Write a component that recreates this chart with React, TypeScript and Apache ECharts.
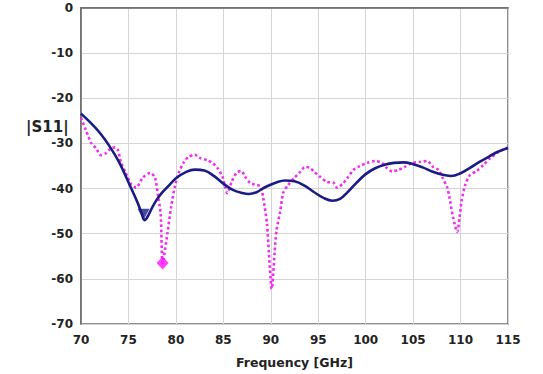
import React, { useEffect, useRef } from "react";
import * as echarts from "echarts";

// Simulated |S11| (dB) versus frequency (GHz)
const simFreq = [
  70, 71, 72, 73, 74, 75, 76, 76.4, 76.7, 77, 77.5, 78, 78.5, 79, 79.5, 80, 81,
  82, 83, 84, 85, 86, 87, 87.7, 88.5, 89.5, 90.5, 91.5, 92.5, 93.5, 94.5, 95.5,
  96.5, 97.3, 98, 99, 100, 101, 102, 103, 104, 105, 106, 107, 108, 109, 110,
  111, 112, 113, 114, 115,
];
const simS11 = [
  -23.4, -25.4, -27.7, -30.6, -34.1, -38.6, -43.3, -45.6, -47, -46.3, -44.2,
  -42.4, -41, -39.9, -38.8, -37.7, -36.4, -35.8, -36, -37.2, -38.9, -40.3, -41,
  -41.2, -40.8, -39.6, -38.7, -38.2, -38.4, -39.3, -40.7, -42, -42.7, -42.3,
  -41, -38.8, -36.8, -35.5, -34.7, -34.3, -34.2, -34.6, -35.3, -36.2, -36.9,
  -37.2, -36.6, -35.4, -34.1, -32.9, -31.8, -31,
];

// Measured |S11| (dB) versus frequency (GHz)
const measFreq = [
  70, 70.5, 71.1, 71.6, 72.1, 72.6, 73.2, 73.6, 73.9, 74.2, 74.7, 75.3, 75.8,
  76.5, 77.3, 77.8, 78.1, 78.4, 78.6, 79.1, 79.5, 79.9, 80.3, 80.8, 81.3, 82,
  82.5, 83.3, 83.9, 84.4, 84.9, 85.2, 85.4, 85.9, 86.4, 86.9, 87.3, 87.8, 88.3,
  88.9, 89.2, 89.6, 89.8, 90.1, 90.4, 90.6, 91, 91.3, 91.8, 92.5, 93.1, 93.6,
  94.1, 94.6, 95.2, 95.9, 96.6, 97, 97.6, 98.1, 98.7, 99.4, 100.2, 101, 101.7,
  102.2, 102.8, 103.4, 104.1, 104.9, 105.7, 106.5, 107.1, 107.7, 108.1, 108.6,
  108.9, 109.2, 109.65, 109.9, 110.1, 110.5, 111, 111.7, 112.4, 113.1, 113.9,
  114.7, 115,
];
const measS11 = [
  -24.3, -27, -30, -31.1, -32.6, -32.2, -31, -30.9, -31.5, -34.1, -36.5, -39.1,
  -39.8, -37.6, -36.5, -37.6, -41.3, -45.7, -56.5, -50, -44, -39.5, -36.5,
  -34.3, -33, -32.5, -33.2, -33.7, -34.4, -35.5, -37.3, -39.8, -41, -38.4,
  -36.5, -36.1, -37.4, -38.7, -39.1, -39.5, -42, -47.8, -54.3, -62.2, -54.3,
  -49.3, -45, -41, -39.3, -37.6, -36.3, -35.2, -35.4, -36.3, -37.4, -38.5,
  -38.7, -39.8, -38.9, -37.6, -35.9, -35, -34.3, -33.9, -34.3, -35.4, -36.2,
  -35.9, -35.2, -34.3, -34.1, -33.9, -35.2, -35.9, -37.6, -39.8, -42.8, -46.3,
  -49.6, -46.3, -42.8, -39.1, -37, -36.1, -34.8, -33.3, -32, -31.1, -30.9,
];

const freqTicks = [70, 75, 80, 85, 90, 95, 100, 105, 110, 115];
const s11Ticks = [0, -10, -20, -30, -40, -50, -60, -70];

const pairs = (xs: number[], ys: number[]) => xs.map((x, i) => [x, ys[i]]);

// Point of the deepest resonance in a trace
const minPoint = (xs: number[], ys: number[]) => {
  let k = 0;
  ys.forEach((v, i) => {
    if (v < ys[k]) k = i;
  });
  return [xs[k], ys[k]];
};

const FONT = "'DejaVu Sans', Verdana, sans-serif";
const NAVY = "#1b1b86";
const MAGENTA = "#f02cf0";

export default function App() {
  const ref = useRef<HTMLDivElement>(null);

  useEffect(() => {
    if (!ref.current) return;
    const chart = echarts.init(ref.current, null, { renderer: "svg" });
    const simMin = minPoint(simFreq, simS11);
    const measFirstDip = minPoint(measFreq.slice(0, 25), measS11.slice(0, 25));

    chart.setOption({
      animation: false,
      backgroundColor: "#ffffff",
      grid: {
        left: 81,
        right: 35,
        top: 8,
        bottom: 42,
        show: true,
        borderColor: "#6a6a6a",
        borderWidth: 1.5,
        backgroundColor: "transparent",
      },
      xAxis: {
        type: "value",
        min: 70,
        max: 115,
        interval: 5,
        name: "Frequency [GHz]",
        nameLocation: "middle",
        nameGap: 32,
        nameTextStyle: { fontFamily: FONT, fontWeight: "bold", fontSize: 12.5, color: "#222" },
        axisLine: { show: true, lineStyle: { color: "#6a6a6a", width: 1.5 } },
        axisTick: { show: false },
        axisLabel: {
          fontFamily: FONT,
          fontWeight: "bold",
          fontSize: 12,
          color: "#222",
          margin: 10,
          formatter: (v: number) => (freqTicks.includes(v) ? String(v) : ""),
        },
        splitLine: { show: true, lineStyle: { color: "#d4d4d4", width: 1 } },
      },
      yAxis: {
        type: "value",
        min: -70,
        max: 0,
        interval: 10,
        axisLine: { show: true, lineStyle: { color: "#6a6a6a", width: 1.5 } },
        axisTick: { show: false },
        axisLabel: {
          fontFamily: FONT,
          fontWeight: "bold",
          fontSize: 12,
          color: "#222",
          margin: 8,
          formatter: (v: number) => (s11Ticks.includes(v) ? String(v) : ""),
        },
        splitLine: { show: true, lineStyle: { color: "#d4d4d4", width: 1 } },
      },
      graphic: [
        {
          type: "text",
          left: 26,
          top: 119,
          style: {
            text: "|S11|",
            fontFamily: FONT,
            fontWeight: "bold",
            fontSize: 15,
            fill: "#222",
          },
        },
      ],
      series: [
        {
          name: "measured",
          type: "line",
          data: pairs(measFreq, measS11),
          smooth: 0.25,
          showSymbol: false,
          lineStyle: { color: MAGENTA, width: 2.6, type: [2.6, 2.6] },
          z: 2,
        },
        {
          name: "simulated",
          type: "line",
          data: pairs(simFreq, simS11),
          smooth: 0.4,
          showSymbol: false,
          lineStyle: { color: NAVY, width: 2.6 },
          z: 3,
        },
        {
          name: "simulated minimum",
          type: "scatter",
          data: [simMin],
          symbol: "triangle",
          symbolRotate: 180,
          symbolSize: [12, 11],
          symbolOffset: [-1, -6],
          itemStyle: { color: NAVY },
          z: 4,
        },
        {
          name: "measured marker",
          type: "scatter",
          data: [measFirstDip],
          symbol: "diamond",
          symbolSize: [12, 13],
          itemStyle: { color: "#ff11ff" },
          z: 4,
        },
      ],
    });
    return () => chart.dispose();
  }, []);

  return (
    <div
      ref={ref}
      style={{ position: "fixed", left: 0, top: 0, width: 543, height: 374 }}
    />
  );
}
